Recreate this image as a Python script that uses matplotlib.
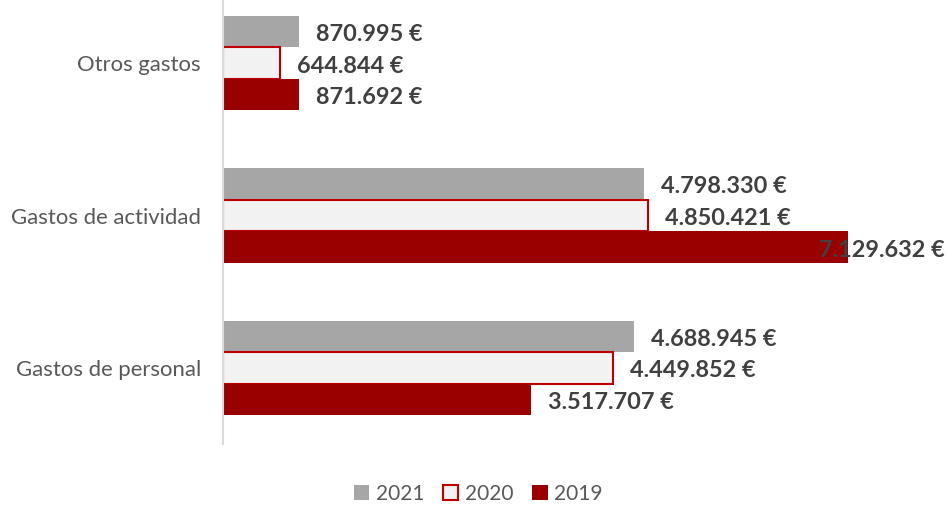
import matplotlib.pyplot as plt
import numpy as np

plt.rcParams['font.family'] = ['Lato', 'DejaVu Sans']

# data
categorias = ['Gastos de personal', 'Gastos de actividad', 'Otros gastos']
v2021 = [4688945, 4798330, 870995]
v2020 = [4449852, 4850421, 644844]
v2019 = [3517707, 7129632, 871692]

def fmt(v):
    return '{:,}'.format(v).replace(',', '.') + ' €'

W, H = 949, 505
fig = plt.figure(figsize=(W / 100, H / 100), dpi=100)
# axes: left edge 223 px, y range from -13 px to 444 px
ax = fig.add_axes([223 / W, 1 - 444 / H, (945 - 223) / W, 457 / H])

px_per_unit = 625 / 7129632
xmax = (945 - 223) / px_per_unit
ax.set_xlim(0, xmax)
ax.set_ylim(-0.5, 2.5)

y = np.arange(len(categorias))
h = 0.207
b1 = ax.barh(y + h, v2021, h, color='#A6A6A6', label='2021')
b2 = ax.barh(y, v2020, h, color='#F2F2F2', edgecolor='#C00000', linewidth=1.5, label='2020')
b3 = ax.barh(y - h, v2019, h, color='#990000', label='2019')

off = 17 / px_per_unit
dy = 3 * 3 / 457  # shift labels ~3 px down
for bars, vals in [(b1, v2021), (b2, v2020), (b3, v2019)]:
    for bar, v in zip(bars, vals):
        yc = bar.get_y() + bar.get_height() / 2 - dy
        txt = fmt(v)
        if v + off + 130 / px_per_unit > xmax:
            ax.text(xmax, yc, txt, ha='right', va='center', fontsize=16.9,
                    fontweight='bold', color='#404040')
        else:
            ax.text(v + off, yc, txt, ha='left', va='center', fontsize=16.9,
                    fontweight='bold', color='#404040')

ax.set_yticks(y)
ax.set_yticklabels(categorias, fontsize=15.9, color='#595959')
ax.tick_params(axis='y', length=0, pad=16)
ax.set_xticks([])
for s in ['top', 'right', 'bottom']:
    ax.spines[s].set_visible(False)
ax.spines['left'].set_color('#D9D9D9')
ax.spines['left'].set_linewidth(1.5)

fig.legend(handles=[b1, b2, b3], loc='center', bbox_to_anchor=(478 / W, 1 - 494 / H),
           ncol=3, frameon=False, fontsize=15, labelcolor='#595959',
           handlelength=0.75, handleheight=0.75, handletextpad=0.3, columnspacing=0.9)

fig.savefig('out.png', dpi=100)
